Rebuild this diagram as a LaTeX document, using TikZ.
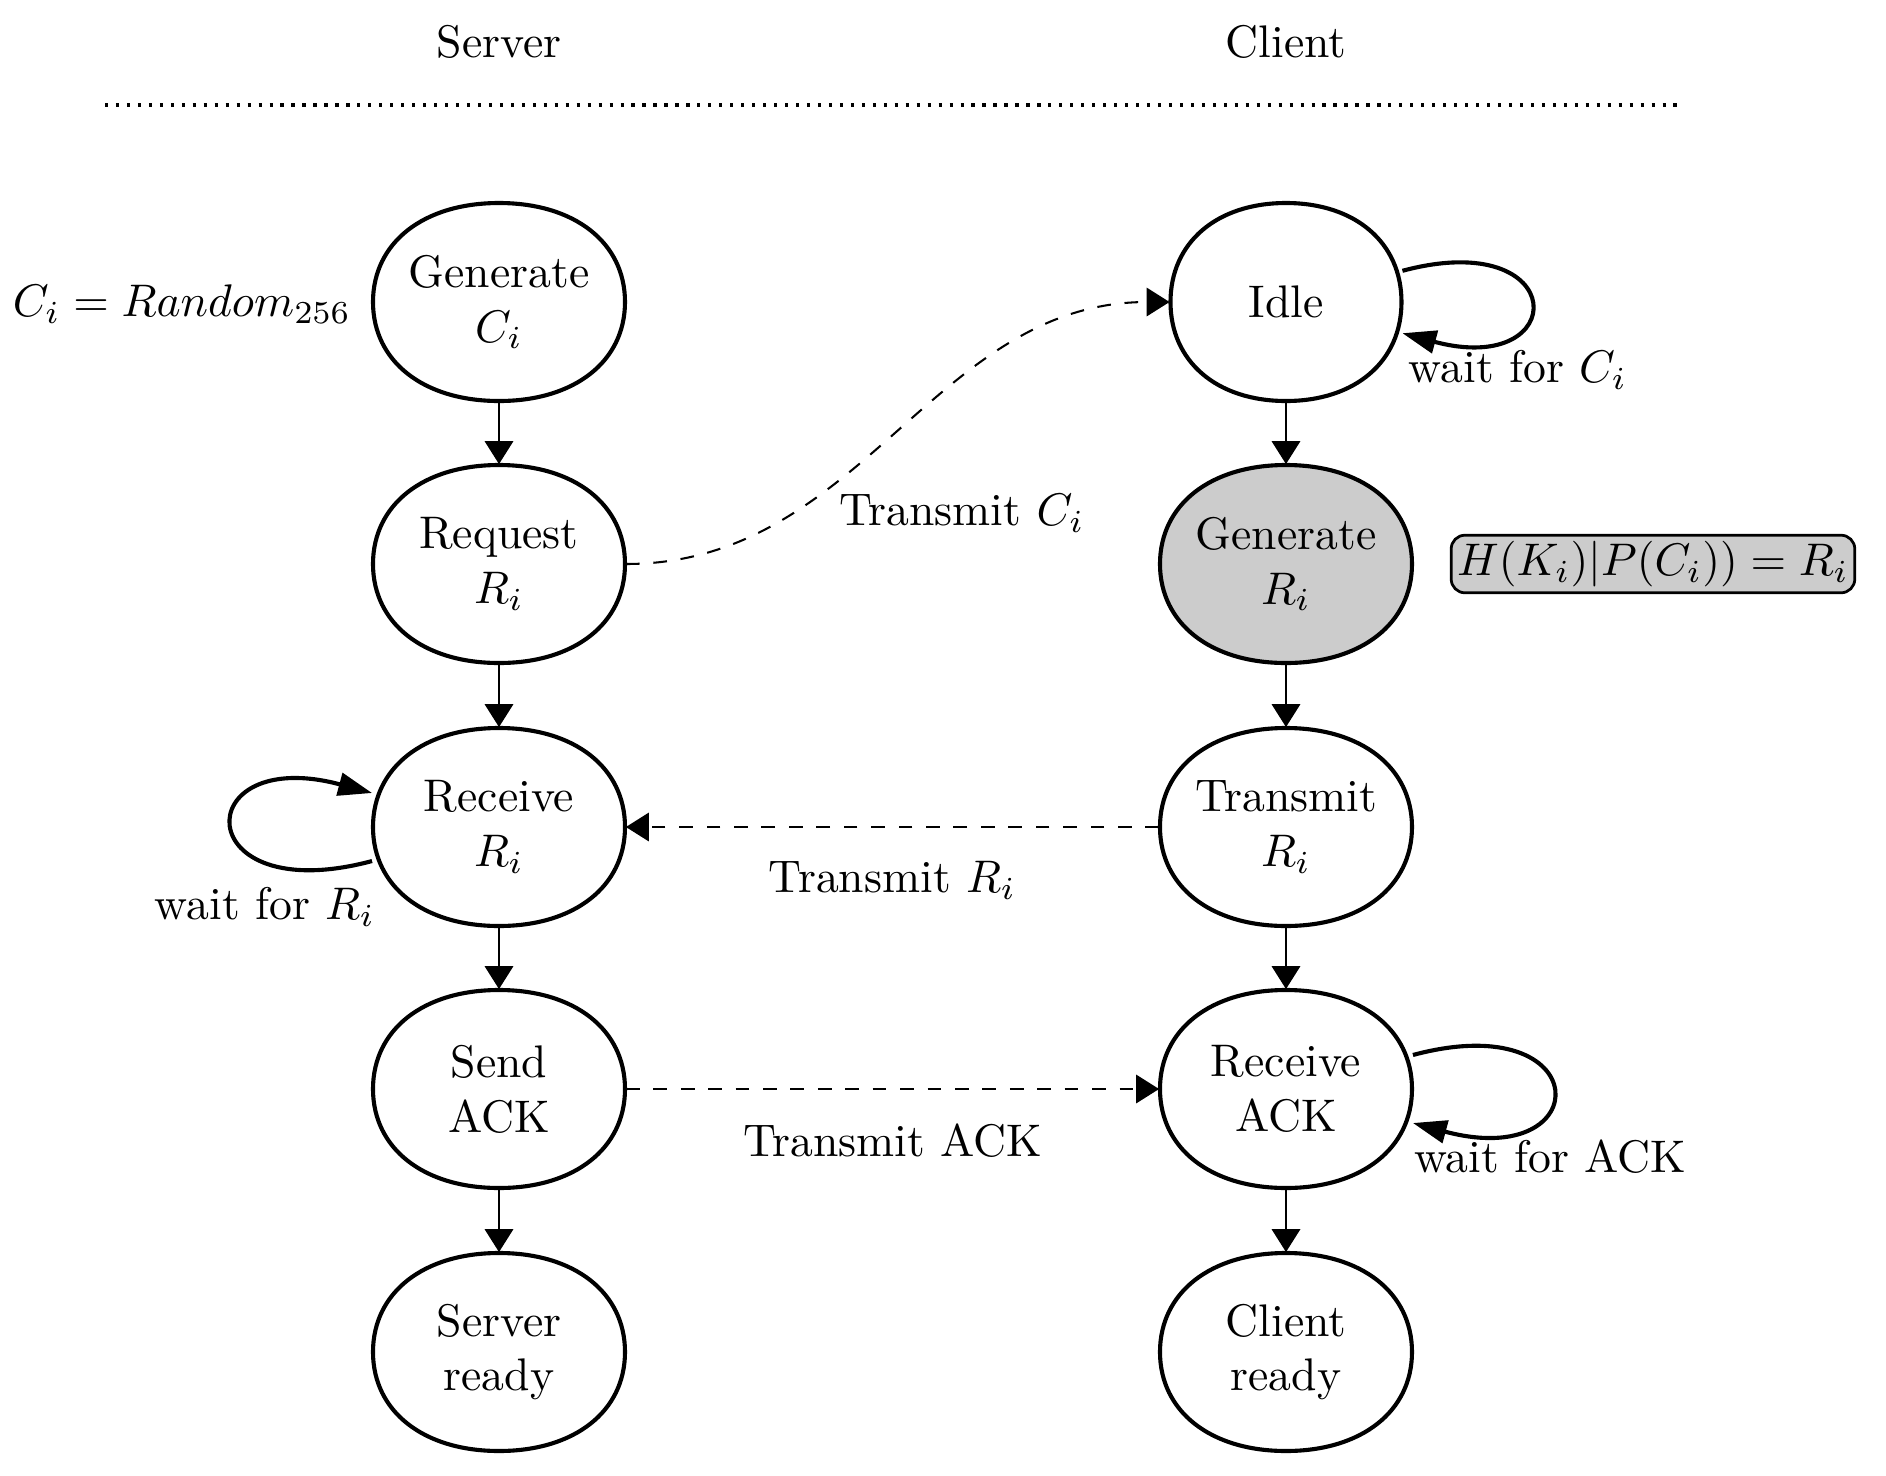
\documentclass[tikz,border=0pt]{standalone}
\usetikzlibrary{arrows.meta,backgrounds}
\newcommand{\statebody}[4][]{%
  \path[stateline,#1,shift={(#2.center)}]
    (#3,0) .. controls (#3,0.6*#4) and (0.6*#3,#4) .. (0,#4)
    .. controls (-0.6*#3,#4) and (-#3,0.6*#4) .. (-#3,0)
    .. controls (-#3,-0.6*#4) and (-0.6*#3,-#4) .. (0,-#4)
    .. controls (0.6*#3,-#4) and (#3,-0.6*#4) .. (#3,0) -- cycle;}
\begin{document}
\begin{tikzpicture}[x=0.0076923cm,y=-0.0076923cm,
  stateline/.style={draw=black,line width=0.9pt},
  statenode/.style={rectangle,inner sep=0pt,minimum width=1.9385cm,minimum height=1.523cm,align=center},
  flow/.style={-{Triangle[length=5pt,width=6.2pt]},line width=0.45pt},
  msg/.style={flow,dashed},
  selfloop/.style={-{Triangle[length=7.4pt,width=5pt]},line width=0.9pt,looseness=7.2}]
\useasboundingbox (0,0) rectangle (1886,1476);

% headers
\node (srv) at (499,42) {Server};
\node (cli) at (1286,42) {Client};
\coordinate (dl) at (105,105);
\coordinate (dr) at (1683,105);
\draw[line width=0.7pt,dash pattern=on 0.7pt off 1.7pt] (dl) -- (dr);

% server column
\node[statenode] (genC) at (499,302) {Generate\\$C_i$};
\node[statenode] (reqR) at (499,564) {Request\\$R_i$};
\node[statenode] (recR) at (499,827) {Receive\\$R_i$};
\node[statenode] (sack) at (499,1089) {Send\\ACK};
\node[statenode] (srdy) at (499,1352) {Server\\ready};

% client column
\node[statenode,minimum width=1.777cm] (idle) at (1286,302) {Idle};
\node[statenode] (genR) at (1286,564) {Generate\\$R_i$};
\node[statenode] (trR) at (1286,827) {Transmit\\$R_i$};
\node[statenode] (rack) at (1286,1089) {Receive\\ACK};
\node[statenode] (crdy) at (1286,1352) {Client\\ready};

\begin{pgfonlayer}{background}
\statebody{genC}{126}{99}
\statebody{reqR}{126}{99}
\statebody{recR}{126}{99}
\statebody{sack}{126}{99}
\statebody{srdy}{126}{99}
\statebody{idle}{115.5}{99}
\statebody[fill=gray!40]{genR}{126}{99}
\statebody{trR}{126}{99}
\statebody{rack}{126}{99}
\statebody{crdy}{126}{99}
\end{pgfonlayer}

% side texts
\node (rnd) at (182,304) {$C_i = Random_{256}$};
\node[draw,fill=gray!40,rounded corners=3pt,inner sep=1.3pt,line width=0.6pt] (eq) at (1653,564) {$H(K_i)|P(C_i)) = R_i$};

% vertical flows
\draw[flow] (genC) -- (reqR);
\draw[flow] (reqR) -- (recR);
\draw[flow] (recR) -- (sack);
\draw[flow] (sack) -- (srdy);
\draw[flow] (idle) -- (genR);
\draw[flow] (genR) -- (trR);
\draw[flow] (trR) -- (rack);
\draw[flow] (rack) -- (crdy);

% messages
\draw[msg] (reqR.east) to[out=0,in=180] (idle.west);
\node (tc) at (962,513) {Transmit $C_i$};
\draw[msg] (trR) -- node[below=4pt] (tr) {Transmit $R_i$} (recR);
\draw[msg] (sack) -- node[below=4pt] (ta) {Transmit ACK} (rack);

% self loops
\draw[selfloop] (idle.15) to[out=15,in=-15] (idle.-15);
\node (wc) at (1518,370) {wait for $C_i$};
\draw[selfloop] (recR.195) to[out=195,in=165] (recR.165);
\node (wr) at (265,907) {wait for $R_i$};
\draw[selfloop] (rack.15) to[out=15,in=-15] (rack.-15);
\node (wa) at (1550,1157) {wait for ACK};
\end{tikzpicture}
\end{document}
